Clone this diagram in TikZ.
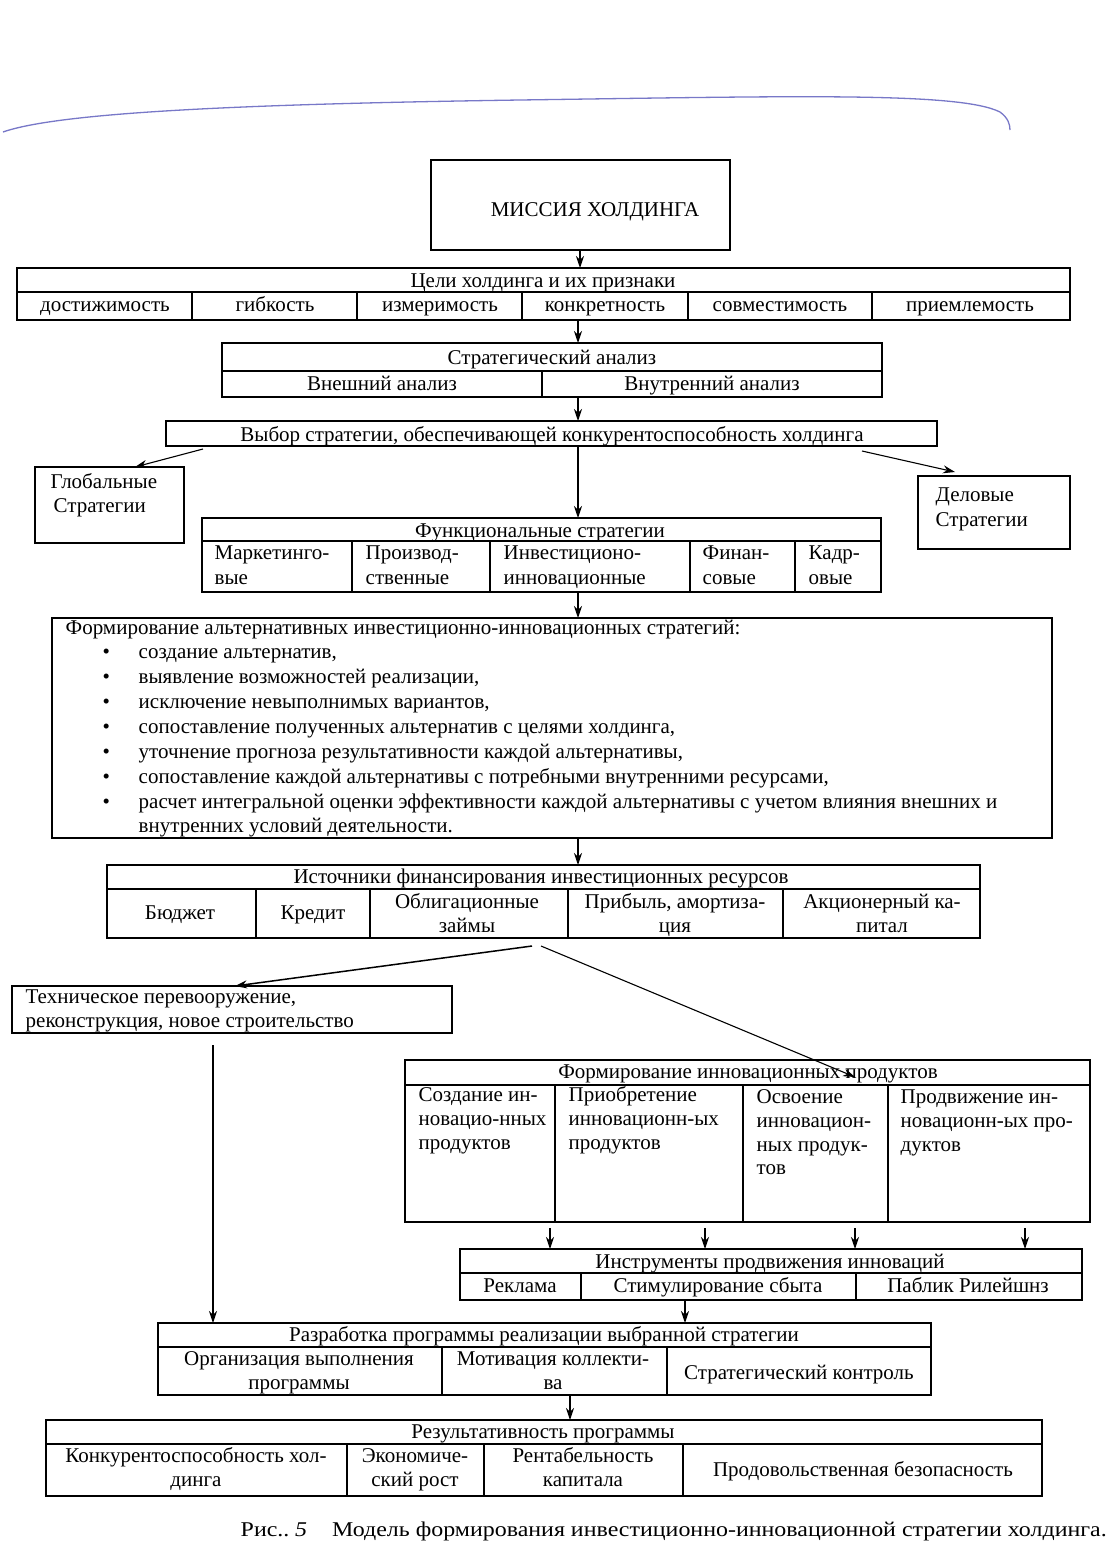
\documentclass[tikz,border=0pt]{standalone}
\usepackage{fontspec}
\setmainfont{Liberation Serif}
\usetikzlibrary{arrows.meta}
\newcommand\fsz{\fontsize{21}{25}\selectfont}
\newcommand\rbox[5]{\node[box, minimum width={(#4)-(#2)}, minimum height={(#5)-(#3)}] (#1) at ({((#2)+(#4))/2},{((#3)+(#5))/2}) {};}
\begin{document}
\begin{tikzpicture}[x=1pt,y=-1pt, line width=1.4pt,
  box/.style={draw, inner sep=0pt, outer sep=0pt},
  txt/.style={inner sep=0pt, font=\fsz, anchor=base},
  lt/.style={inner sep=0pt, font=\fsz, anchor=base west},
  arr/.style={-{Stealth[length=12pt,width=8pt]}, line width=1.1pt}]
\fill[white] (0,0) rectangle (1112,1551);
\path[use as bounding box] (0,0) rectangle (1112,1551);
% pen mark
\draw[color={rgb,255:red,120;green,120;blue,200}, line width=1.3pt]
  (3,132) .. controls (60,112) and (250,104) .. (520,100)
  .. controls (800,96) and (960,92) .. (1000,112) .. controls (1008,118) and (1010,124) .. (1010,130);
% mission
\rbox{mission}{431}{160}{730}{250}
\node[txt] (missiontxt) at (595,216) {МИССИЯ ХОЛДИНГА};
% goals
\rbox{goals}{17}{268}{1070}{320}
\draw (17,292) -- (1070,292);
\foreach \x in {192,357,522,688,872} \draw (\x,292) -- (\x,320);
\node[txt] (g0) at (543,287) {Цели холдинга и их признаки};
\node[txt] (g1) at (105,311) {достижимость};
\node[txt] (g2) at (275,311) {гибкость};
\node[txt] (g3) at (440,311) {измеримость};
\node[txt] (g4) at (605,311) {конкретность};
\node[txt] (g5) at (780,311) {совместимость};
\node[txt] (g6) at (970,311) {приемлемость};
\draw[arr] (mission.south -| 580,0) -- (goals.north -| 580,0);
% strategic analysis
\rbox{strat}{222}{343}{882}{397}
\draw (222,371) -- (882,371);
\draw (542,371) -- (542,397);
\node[txt] (s0) at (552,364) {Стратегический анализ};
\node[txt] (s1) at (382,390) {Внешний анализ};
\node[txt] (s2) at (712,390) {Внутренний анализ};
\draw[arr] (goals.south -| 578,0) -- (strat.north -| 578,0);
% choice
\rbox{choice}{166}{421}{937}{446}
\node[txt] (c0) at (552,441) {Выбор стратегии, обеспечивающей конкурентоспособность холдинга};
\draw[arr] (strat.south -| 578,0) -- (choice.north -| 578,0);
% global / business
\rbox{glob}{35}{467}{184}{543}
\node[lt] (gl1) at (50,488) {Глобальные};
\node[lt] (gl2) at (53,512) {Стратегии};
\rbox{bus}{918}{476}{1070}{549}
\node[lt] (bu1) at (935,501) {Деловые};
\node[lt] (bu2) at (935,526) {Стратегии};
\coordinate (cl) at (203,449);
\coordinate (cr) at (862,451);
\draw[arr] (cl) -- ([xshift=100pt]glob.north west);
\draw[arr] (cr) -- ([xshift=37pt,yshift=4pt]bus.north west);
% functional
\rbox{func}{202}{518}{881}{592}
\draw[arr] (choice.south -| 578,0) -- (func.north -| 578,0);
\draw (202,541) -- (881,541);
\foreach \x in {352,490,690,795} \draw (\x,541) -- (\x,592);
\node[txt] (f0) at (540,537) {Функциональные стратегии};
\node[lt] (f1a) at (214,559) {Маркетинго-};
\node[lt] (f1b) at (214,584) {вые};
\node[lt] (f2a) at (365,559) {Производ-};
\node[lt] (f2b) at (365,584) {ственные};
\node[lt] (f3a) at (503,559) {Инвестиционо-};
\node[lt] (f3b) at (503,584) {инновационные};
\node[lt] (f4a) at (702,559) {Финан-};
\node[lt] (f4b) at (702,584) {совые};
\node[lt] (f5a) at (808,559) {Кадр-};
\node[lt] (f5b) at (808,584) {овые};
% formation
\rbox{form}{52}{618}{1052}{838}
\draw[arr] (func.south -| 578,0) -- (form.north -| 578,0);
\node[lt] (fo0) at (65,634) {Формирование альтернативных инвестиционно-инновационных стратегий:};
\foreach \yy/\tt [count=\i] in {658/{создание альтернатив,},683/{выявление возможностей реализации,},708/{исключение невыполнимых вариантов,},733/{сопоставление полученных альтернатив с целями холдинга,},758/{уточнение прогноза результативности каждой альтернативы,},783/{сопоставление каждой альтернативы с потребными внутренними ресурсами,},808/{расчет интегральной оценки эффективности каждой альтернативы с учетом влияния внешних и}}{
  \node[lt] (bul\i) at (102,\yy) {•};
  \node[lt] (fo\i) at (138,\yy) {\tt};
}
\node[lt] (fo8) at (138,832) {внутренних условий деятельности.};
% sources
\rbox{src}{107}{865}{980}{938}
\draw[arr] (form.south -| 578,0) -- (src.north -| 578,0);
\draw (107,889) -- (980,889);
\foreach \x in {256,370,568,783} \draw (\x,889) -- (\x,938);
\node[txt] (r0) at (541,883) {Источники финансирования инвестиционных ресурсов};
\node[txt] (r1) at (180,919) {Бюджет};
\node[txt] (r2) at (313,919) {Кредит};
\node[txt] (r3a) at (467,908) {Облигационные};
\node[txt] (r3b) at (467,932) {займы};
\node[txt] (r4a) at (675,908) {Прибыль, амортиза-};
\node[txt] (r4b) at (675,932) {ция};
\node[txt] (r5a) at (882,908) {Акционерный ка-};
\node[txt] (r5b) at (882,932) {питал};
% tech
\rbox{tech}{12}{986}{452}{1033}
\node[lt] (t1) at (25,1003) {Техническое перевооружение,};
\node[lt] (t2) at (25,1027) {реконструкция, новое строительство};
\coordinate (cs1) at (532,946);
\coordinate (cs2) at (541,946);
\draw[arr, line width=1.5pt] (cs1) -- ([xshift=223pt]tech.north west);
\coordinate (ct) at (213,1045);
% innovation products
\rbox{innov}{405}{1060}{1090}{1222}
\draw[arr] (cs2) -- (855,1077);
\draw (405,1085) -- (1090,1085);
\foreach \x in {555,743,888} \draw (\x,1085) -- (\x,1222);
\node[txt] (i0) at (748,1078) {Формирование инновационных продуктов};
\node[lt] (i1a) at (418,1101) {Создание ин-};
\node[lt] (i1b) at (418,1125) {новацио-нных};
\node[lt] (i1c) at (418,1149) {продуктов};
\node[lt] (i2a) at (568,1101) {Приобретение};
\node[lt] (i2b) at (568,1125) {инновационн-ых};
\node[lt] (i2c) at (568,1149) {продуктов};
\node[lt] (i3a) at (756,1103) {Освоение};
\node[lt] (i3b) at (756,1127) {инновацион-};
\node[lt] (i3c) at (756,1151) {ных продук-};
\node[lt] (i3d) at (756,1174) {тов};
\node[lt] (i4a) at (900,1103) {Продвижение ин-};
\node[lt] (i4b) at (900,1127) {новационн-ых про-};
\node[lt] (i4c) at (900,1151) {дуктов};
% tools
\rbox{tools}{460}{1249}{1082}{1300}
\foreach \x in {550,705,855,1025} \draw[arr] (innov.south -| \x,0) ++(0,6) -- (tools.north -| \x,0);
\draw (460,1273) -- (1082,1273);
\foreach \x in {581,856} \draw (\x,1273) -- (\x,1300);
\node[txt] (to0) at (770,1268) {Инструменты продвижения инноваций};
\node[txt] (to1) at (520,1292) {Реклама};
\node[txt] (to2) at (718,1292) {Стимулирование сбыта};
\node[txt] (to3) at (968,1292) {Паблик Рилейшнз};
% development
\rbox{dev}{158}{1323}{931}{1395}
\draw[arr] (tools.south -| 685,0) -- (dev.north -| 685,0);
\draw[arr] (ct) -- (dev.north -| ct);
\draw (158,1347) -- (931,1347);
\foreach \x in {442,667} \draw (\x,1347) -- (\x,1395);
\node[txt] (d0) at (544,1341) {Разработка программы реализации выбранной стратегии};
\node[txt] (d1a) at (299,1365) {Организация выполнения};
\node[txt] (d1b) at (299,1389) {программы};
\node[txt] (d2a) at (553,1365) {Мотивация коллекти-};
\node[txt] (d2b) at (553,1389) {ва};
\node[txt] (d3) at (799,1379) {Стратегический контроль};
% results
\rbox{res}{46}{1420}{1042}{1496}
\draw[arr] (dev.south -| 570,0) -- (res.north -| 570,0);
\draw (46,1444) -- (1042,1444);
\foreach \x in {347,484,683} \draw (\x,1444) -- (\x,1496);
\node[txt] (e0) at (543,1438) {Результативность программы};
\node[txt] (e1a) at (196,1462) {Конкурентоспособность хол-};
\node[txt] (e1b) at (196,1486) {динга};
\node[txt] (e2a) at (415,1462) {Экономиче-};
\node[txt] (e2b) at (415,1486) {ский рост};
\node[txt] (e3a) at (583,1462) {Рентабельность};
\node[txt] (e3b) at (583,1486) {капитала};
\node[txt] (e4) at (863,1476) {Продовольственная безопасность};
% caption
\node[lt] (cap) at (240,1536) {\scalebox{1.14}[1]{Рис..\hspace{5pt}\textit{5}\hspace{22pt}Модель формирования инвестиционно-инновационной стратегии холдинга.}};
\end{tikzpicture}
\end{document}
